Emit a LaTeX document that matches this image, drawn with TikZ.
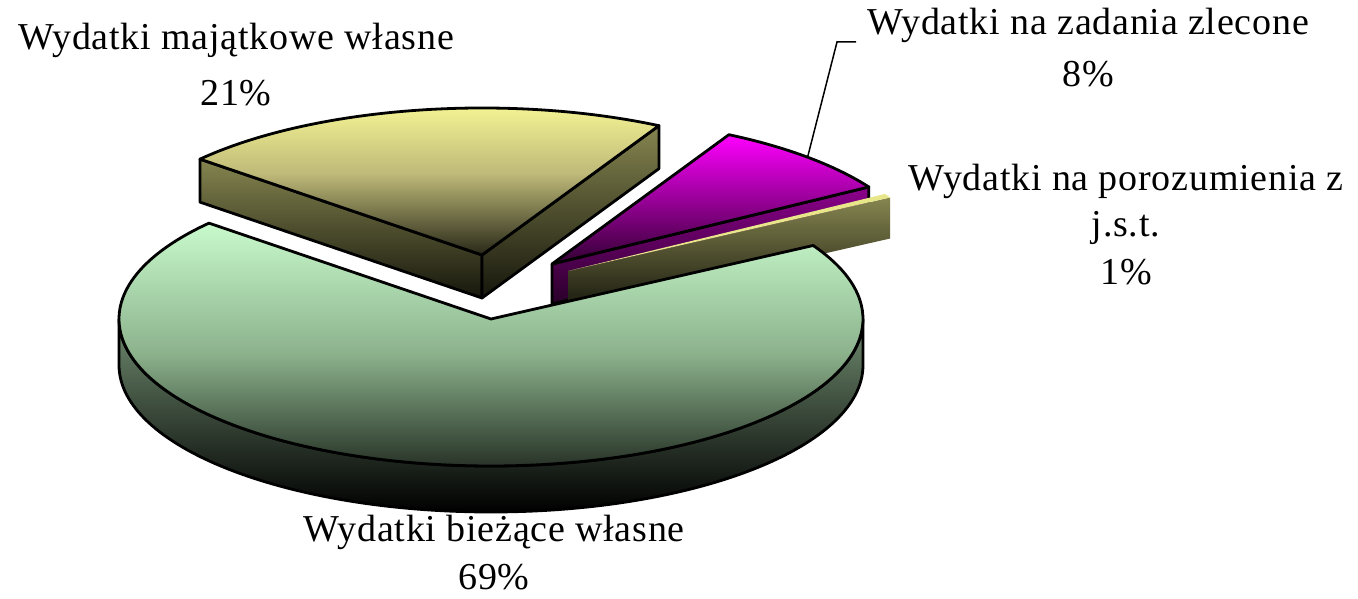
\documentclass[tikz,border=0pt]{standalone}
\usepackage{fontspec}
\setmainfont{Liberation Serif}[LetterSpace=2]
\usetikzlibrary{calc}

\definecolor{mintlight}{RGB}{200,250,204}
\definecolor{mintmid}{RGB}{140,178,140}
\definecolor{mintdark}{RGB}{24,32,24}
\definecolor{mintside}{RGB}{112,140,112}
\definecolor{lemonlight}{RGB}{255,255,153}
\definecolor{lemonmid}{RGB}{190,185,120}
\definecolor{lemondark}{RGB}{40,40,24}
\definecolor{olvside}{RGB}{133,133,80}
\definecolor{olvdark}{RGB}{22,22,12}
\definecolor{magtop}{RGB}{255,0,255}
\definecolor{magdark}{RGB}{50,0,50}
\definecolor{plumside}{RGB}{140,0,140}
\definecolor{plumdark}{RGB}{40,0,40}

\begin{document}
\begin{tikzpicture}[x=1pt, y=1pt,
	rim/.style={x radius=372pt, y radius=147pt},
	sliceline/.style={draw=black, line width=2.8pt, line join=round},
	chartlabel/.style={font=\fontsize{38}{48}\selectfont, align=center, inner sep=0pt, anchor=base}]
	\useasboundingbox (0,0) rectangle (1358,599);
	
	% centres of the exploded slices
	\coordinate (G) at (491,280);
	\coordinate (Y) at (482,344);
	\coordinate (M) at (552,335);
	\coordinate (O) at (568,328);
	
	% majatkowe 21%
	\path[sliceline, top color=olvside, bottom color=olvdark]
		(Y) -- ($(Y)+(139.3:372pt and 147pt)$) -- ++(0,-43) -- ($(Y)+(0,-43)$) -- cycle;
	\path[sliceline, top color=olvside, bottom color=olvdark]
		(Y) -- ($(Y)+(61.6:372pt and 147pt)$) -- ++(0,-43) -- ($(Y)+(0,-43)$) -- cycle;
	\path[sliceline, top color=lemonlight, bottom color=lemondark, middle color=lemonmid]
		(Y) -- ($(Y)+(61.6:372pt and 147pt)$) arc[start angle=61.6, end angle=139.3, rim] -- cycle;
	
	% zlecone 8%
	\path[sliceline, top color=plumside, bottom color=plumdark]
		(M) -- ($(M)+(31.6:372pt and 147pt)$) -- ++(0,-40) -- ($(M)+(0,-40)$) -- cycle;
	\path[sliceline, top color=magtop, bottom color=magdark]
		(M) -- ($(M)+(31.6:372pt and 147pt)$) arc[start angle=31.6, end angle=61.6, rim] -- cycle;
	
	% porozumienia 1%
	\path[top color=olvside, bottom color=olvdark]
		(O) -- ($(O)+(30:372pt and 147pt)$) -- ++(0,-41) -- ($(O)+(0,-41)$) -- cycle;
	\path[fill=lemonlight!80!olvside]
		(O) -- ($(O)+(30:372pt and 147pt)$) arc[start angle=30, end angle=31.6, rim] -- cycle;
	
	% biezace 69%
	\path[sliceline, top color=mintside, bottom color=black]
		($(G)+(180:372pt and 147pt)$) arc[start angle=180, end angle=360, rim]
		-- ++(0,-46) arc[start angle=360, end angle=180, rim] -- cycle;
	\path[sliceline, top color=mintlight, bottom color=mintdark, middle color=mintmid]
		(G) -- ($(G)+(139.3:372pt and 147pt)$) arc[start angle=139.3, end angle=390, rim] -- cycle;
	
	% leader line
	\coordinate (zlrim) at ($(M)+(46.6:372pt and 147pt)$);
	\coordinate (zlkink) at (837,557);
	\coordinate (zlend) at (856,557);
	\draw[line width=1.5pt] (zlrim) -- (zlkink) -- (zlend);
	
	\node[chartlabel] (majatkowe) at (236,493) {Wydatki majątkowe własne\\[8pt]21\%};
	\node[chartlabel] (zlecone) at (1088,512) {Wydatki na zadania zlecone\\[4pt]8\%};
	\node[chartlabel] (porozumienia) at (1126,314) {Wydatki na porozumienia z\\[-2pt]j.s.t.\\1\%};
	\node[chartlabel] (biezace) at (494,9) {Wydatki bieżące własne\\69\%};
\end{tikzpicture}
\end{document}
